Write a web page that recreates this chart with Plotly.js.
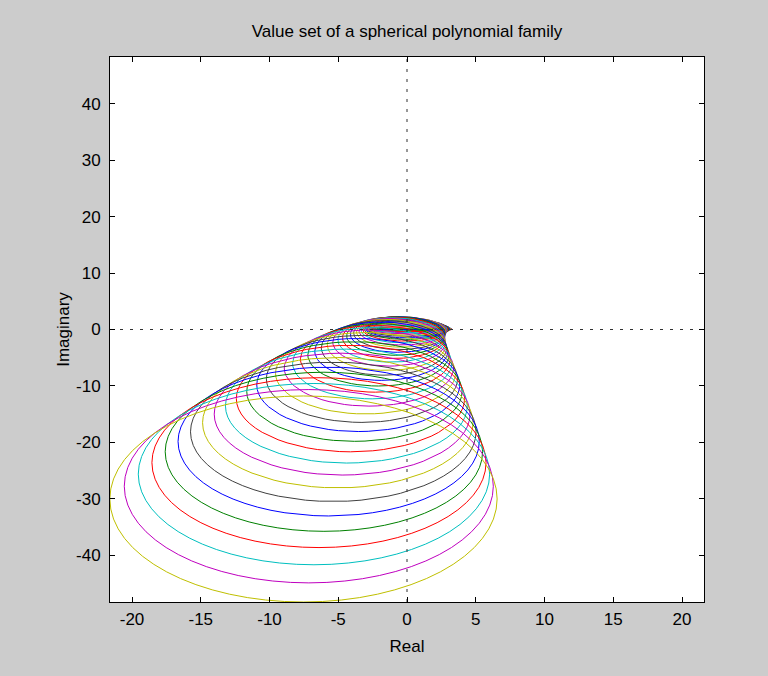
<!DOCTYPE html>
<html>
<head>
<meta charset="utf-8">
<script src="https://cdn.plot.ly/plotly-3.0.1.min.js"></script>
<style>
  html, body { margin: 0; padding: 0; background: #cccccc; }
  #chart { width: 768px; height: 676px; }
</style>
</head>
<body>
<div id="chart"></div>
<script>
// Value set ellipses (one per frequency):
// centre (real, imaginary) and semi-axes (real, imaginary)
const centreRe = [0.28,0.275,0.26,0.236,0.202,0.158,0.104,0.041,-0.032,-0.115,-0.208,-0.31,-0.423,-0.545,-0.676,-0.818,-0.969,-1.13,-1.301,-1.482,-1.672,-1.872,-2.082,-2.302,-2.531,-2.77,-3.019,-3.278,-3.546,-3.824,-4.112,-4.41,-4.717,-5.034,-5.361,-5.698,-6.044,-6.401,-6.767,-7.142,-7.528];
const centreIm = [0,0.033,0.062,0.086,0.101,0.104,0.092,0.063,0.013,-0.06,-0.16,-0.289,-0.451,-0.648,-0.883,-1.159,-1.479,-1.846,-2.264,-2.734,-3.26,-3.845,-4.492,-5.203,-5.982,-6.831,-7.754,-8.754,-9.833,-10.994,-12.24,-13.575,-15,-16.52,-18.137,-19.854,-21.673,-23.599,-25.633,-27.779,-30.04];
const semiRe = [3,3,3,3.001,3.003,3.008,3.016,3.029,3.05,3.08,3.121,3.175,3.246,3.334,3.441,3.57,3.721,3.896,4.094,4.317,4.564,4.836,5.131,5.45,5.791,6.155,6.542,6.95,7.38,7.83,8.301,8.792,9.303,9.834,10.384,10.954,11.542,12.15,12.776,13.42,14.083];
const semiIm = [0,0.22,0.44,0.66,0.88,1.1,1.321,1.542,1.765,1.988,2.214,2.443,2.675,2.912,3.155,3.406,3.666,3.937,4.22,4.518,4.833,5.168,5.524,5.904,6.311,6.746,7.213,7.714,8.25,8.825,9.441,10.099,10.801,11.551,12.349,13.198,14.099,15.054,16.065,17.133,18.261];
const colorOrder = ['#0000ff','#008000','#ff0000','#00bfbf','#bf00bf','#bfbf00','#404040'];
const xTicks = [-20,-15,-10,-5,0,5,10,15,20];
const yTicks = [-40,-30,-20,-10,0,10,20,30,40];
const xRange = [-21.6, 21.6];
const yRange = [-48.3, 48.3];

const traces = [];
const nPts = 64;
for (let i = 0; i < centreRe.length; i++) {
  const xs = [], ys = [];
  for (let j = 0; j <= nPts; j++) {
    const t = 2 * Math.PI * j / nPts;
    xs.push(centreRe[i] + semiRe[i] * Math.cos(t));
    ys.push(centreIm[i] + semiIm[i] * Math.sin(t));
  }
  traces.push({
    x: xs, y: ys, type: 'scatter', mode: 'lines',
    line: {color: colorOrder[i % colorOrder.length], width: 1},
    hoverinfo: 'skip', showlegend: false
  });
}
// dotted zero lines
traces.push({x: xRange, y: [0, 0], type: 'scatter', mode: 'lines',
  line: {color: '#303030', width: 1, dash: '3px,7px'}, showlegend: false, hoverinfo: 'skip'});
traces.push({x: [0, 0], y: yRange, type: 'scatter', mode: 'lines',
  line: {color: '#303030', width: 1, dash: '3px,7px'}, showlegend: false, hoverinfo: 'skip'});

const font = {family: '"Liberation Sans", Arial, sans-serif', size: 17, color: '#000000'};
const layout = {
  width: 768, height: 676,
  paper_bgcolor: '#cccccc', plot_bgcolor: '#ffffff',
  margin: {l: 110, r: 64, t: 57, b: 74, pad: 0},
  font: font,
  title: {text: 'Value set of a spherical polynomial family', font: font,
          x: 0.5, xref: 'paper', y: 1 - 31/676, yref: 'container', yanchor: 'middle'},
  xaxis: {range: xRange, tickvals: xTicks, ticktext: xTicks.map(String),
          ticks: 'inside', ticklen: 5, tickcolor: '#000', showline: true, linecolor: '#000', linewidth: 1,
          mirror: 'ticks', showgrid: false, zeroline: false, tickfont: font, ticklabelstandoff: 2,
          title: {text: 'Real', font: font, standoff: 11}},
  yaxis: {range: yRange, tickvals: yTicks, ticktext: yTicks.map(String),
          ticks: 'inside', ticklen: 5, tickcolor: '#000', showline: true, linecolor: '#000', linewidth: 1,
          mirror: 'ticks', showgrid: false, zeroline: false, tickfont: font, ticklabelstandoff: 5,
          title: {text: 'Imaginary', font: font, standoff: 2}},
  showlegend: false
};
Plotly.newPlot('chart', traces, layout, {staticPlot: true});
</script>
</body>
</html>
